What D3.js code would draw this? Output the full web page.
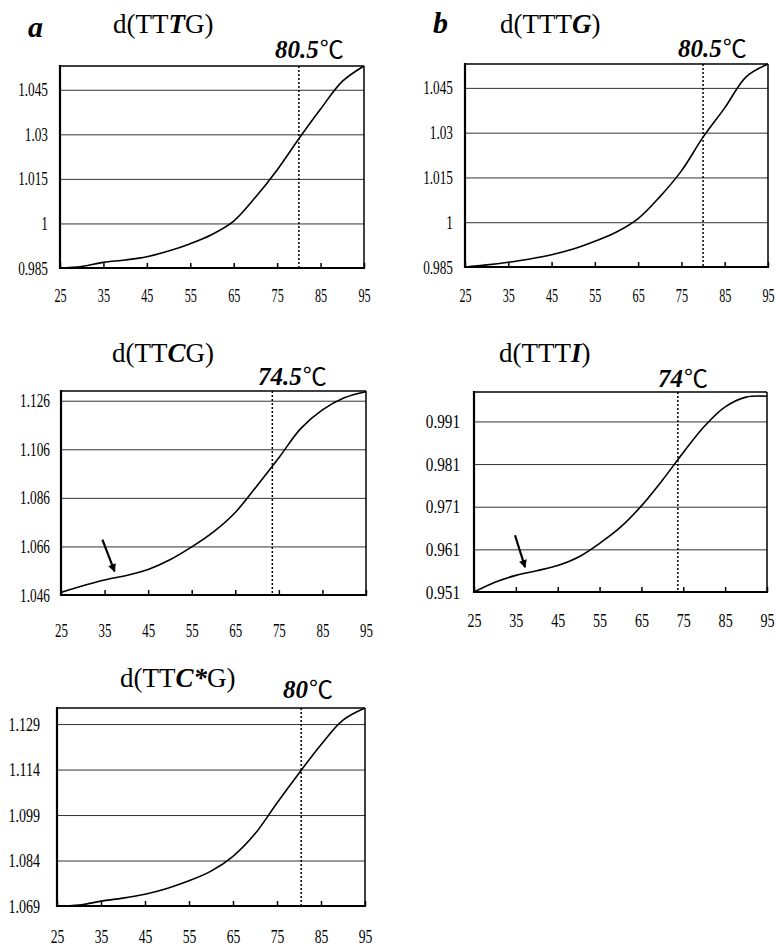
<!DOCTYPE html>
<html>
<head>
<meta charset="utf-8">
<script src="https://cdn.jsdelivr.net/npm/d3@7"></script>
<style>
  body { margin: 0; background: #fff; }
  svg { display: block; }
</style>
</head>
<body>
<svg id="chart"></svg>
<script>
// temperatures (°C) sampled every 5 degrees
const temps = [25, 30, 35, 40, 45, 50, 55, 60, 65, 70, 75, 80, 85, 90, 95];

// normalised absorbance
const tttgA  = [0.9850, 0.9855, 0.9869, 0.9877, 0.9888, 0.9907, 0.9932, 0.9963, 1.0008, 1.0088, 1.0180, 1.0285, 1.0385, 1.0478, 1.0530];
const tttgB  = [0.9850, 0.9857, 0.9866, 0.9877, 0.9891, 0.9910, 0.9936, 0.9967, 1.0012, 1.0085, 1.0172, 1.0285, 1.0383, 1.0488, 1.0530];
const ttcg   = [1.0470, 1.0498, 1.0522, 1.0540, 1.0565, 1.0605, 1.0658, 1.0720, 1.0800, 1.0910, 1.1025, 1.1145, 1.1222, 1.1272, 1.1297];
const ttti   = [0.9510, 0.9533, 0.9549, 0.9560, 0.9572, 0.9592, 0.9624, 0.9662, 0.9712, 0.9772, 0.9837, 0.9898, 0.9944, 0.9967, 0.9969];
const ttcsg  = [1.0690, 1.0693, 1.0706, 1.0716, 1.0729, 1.0748, 1.0773, 1.0805, 1.0854, 1.0928, 1.1030, 1.1128, 1.1222, 1.1303, 1.1343];

const xTicks = [25, 35, 45, 55, 65, 75, 85, 95];
const yTicksTTTG  = [0.985, 1, 1.015, 1.03, 1.045];
const yTicksTTCG  = [1.046, 1.066, 1.086, 1.106, 1.126];
const yTicksTTTI  = [0.951, 0.961, 0.971, 0.981, 0.991];
const yTicksTTCSG = [1.069, 1.084, 1.099, 1.114, 1.129];

// melting temperatures: where the dotted line sits and what the label says
const tmLines  = [80, 80, 73.5, 73.7, 80.5];
const tmLabels = ['80.5', '80.5', '74.5', '74', '80'];

// title pieces, [text, bold-italic?]
const titles = [
    [['d(TT', false], ['T', true], ['G)', false]],
    [['d(TTT', false], ['G', true], [')', false]],
    [['d(TT', false], ['C', true], ['G)', false]],
    [['d(TTT', false], ['I', true], [')', false]],
    [['d(TT', false], ['C*', true], ['G)', false]]
];
const panelLetters = ['a', 'b', '', '', ''];

// arrows: [tail temp, tail value, tip temp, tip value]
const arrowTTCG = [34.5, 1.0688, 37.3, 1.0557];
const arrowTTTI = [34.8, 0.9643, 37.2, 0.9568];

const serif = '"Liberation Serif", "Times New Roman", serif';

const svg = d3.select('#chart')
    .attr('width', 776)
    .attr('height', 949)
    .style('font-family', serif);

svg.append('defs').append('marker')
    .attr('id', 'head')
    .attr('viewBox', '0 0 10 10')
    .attr('refX', 9).attr('refY', 5)
    .attr('markerWidth', 6).attr('markerHeight', 3.6)
    .attr('markerUnits', 'strokeWidth')
    .attr('orient', 'auto')
    .append('path')
    .attr('d', 'M0,0 L10,5 L0,10 Z')
    .attr('fill', '#000');

const panels = [
    { values: tttgA, yTicks: yTicksTTTG, yDomain: [0.985, 1.053], left: 60, right: 364, top: 66, bottom: 268,
      yPad: 12, yCond: 0.70, xLab: 27, xCond: 0.64, letter: [28, 37], title: [113, 33], tm: [275, 58] },
    { values: tttgB, yTicks: yTicksTTTG, yDomain: [0.985, 1.053], left: 465, right: 768, top: 64, bottom: 267,
      yPad: 12, yCond: 0.70, xLab: 28, xCond: 0.64, letter: [433, 33], title: [500, 33], tm: [678, 57] },
    { values: ttcg, yTicks: yTicksTTCG, yDomain: [1.046, 1.130], left: 61, right: 366, top: 391, bottom: 595,
      yPad: 11, yCond: 0.70, xLab: 35, xCond: 0.68, letter: [0, 0], title: [112, 362], tm: [258, 385], arrow: arrowTTCG },
    { values: ttti, yTicks: yTicksTTTI, yDomain: [0.951, 0.9979], left: 474, right: 767, top: 392, bottom: 592,
      yPad: 14, yCond: 0.80, xLab: 28, xCond: 0.74, letter: [0, 0], title: [499, 362], tm: [658, 387], arrow: arrowTTTI },
    { values: ttcsg, yTicks: yTicksTTCSG, yDomain: [1.069, 1.1343], left: 57, right: 365, top: 708, bottom: 906,
      yPad: 17, yCond: 0.74, xLab: 30, xCond: 0.72, letter: [0, 0], title: [120, 687], tm: [283, 698] }
];

// squeeze text horizontally like the narrow digits of the scan
function squeeze(sel, ratio) {
    sel.each(function () {
        const t = d3.select(this);
        const x0 = +t.attr('x') || 0;
        t.attr('x', x0 / ratio).attr('transform', `scale(${ratio},1)`);
    });
}

panels.forEach((p, i) => {
    const x = d3.scaleLinear().domain([25, 95]).range([p.left, p.right]);
    const y = d3.scaleLinear().domain(p.yDomain).range([p.bottom, p.top]);
    const w = p.right - p.left;
    const g = svg.append('g');

    // gridlines and y labels
    const yAxis = g.append('g')
        .attr('transform', `translate(${p.left},0)`)
        .call(d3.axisLeft(y)
            .tickValues(p.yTicks)
            .tickFormat(d => String(d))
            .tickSizeInner(-w)
            .tickSizeOuter(0)
            .tickPadding(p.yPad));
    yAxis.attr('font-family', serif).attr('font-size', 19);
    yAxis.select('.domain').remove();
    yAxis.selectAll('line').attr('stroke', '#333').attr('stroke-width', 1);
    squeeze(yAxis.selectAll('text'), p.yCond);

    // x ticks point inwards
    const xAxis = g.append('g')
        .attr('transform', `translate(0,${p.bottom})`)
        .call(d3.axisBottom(x)
            .tickValues(xTicks)
            .tickFormat(d3.format('d'))
            .tickSizeInner(-5)
            .tickSizeOuter(0));
    xAxis.attr('font-family', serif).attr('font-size', 19);
    xAxis.select('.domain').remove();
    xAxis.selectAll('line').attr('stroke', '#000').attr('stroke-width', 1.5);
    xAxis.selectAll('text')
        .attr('y', p.xLab)
        .attr('dy', '0.35em');
    squeeze(xAxis.selectAll('text'), p.xCond);

    // melting curve
    const line = d3.line()
        .x((d, j) => x(temps[j]))
        .y(d => y(d))
        .curve(d3.curveCatmullRom.alpha(0.5));
    g.append('path')
        .datum(p.values)
        .attr('d', line)
        .attr('fill', 'none')
        .attr('stroke', '#000')
        .attr('stroke-width', 1.6);

    // Tm marker
    g.append('line')
        .attr('x1', x(tmLines[i])).attr('x2', x(tmLines[i]))
        .attr('y1', p.top).attr('y2', p.bottom)
        .attr('stroke', '#000')
        .attr('stroke-width', 1.5)
        .attr('stroke-dasharray', '2,2');

    // frame: left/bottom heavier
    g.append('line').attr('x1', p.left).attr('x2', p.right).attr('y1', p.top).attr('y2', p.top)
        .attr('stroke', '#000').attr('stroke-width', 1.5);
    g.append('line').attr('x1', p.right).attr('x2', p.right).attr('y1', p.top).attr('y2', p.bottom)
        .attr('stroke', '#000').attr('stroke-width', 1.5);
    g.append('line').attr('x1', p.left).attr('x2', p.left).attr('y1', p.top - 1).attr('y2', p.bottom + 1)
        .attr('stroke', '#000').attr('stroke-width', 2.2);
    g.append('line').attr('x1', p.left - 1).attr('x2', p.right + 1).attr('y1', p.bottom).attr('y2', p.bottom)
        .attr('stroke', '#000').attr('stroke-width', 2.2);

    // arrow pointing at the shoulder
    if (p.arrow) {
        g.append('line')
            .attr('x1', x(p.arrow[0])).attr('y1', y(p.arrow[1]))
            .attr('x2', x(p.arrow[2])).attr('y2', y(p.arrow[3]))
            .attr('stroke', '#000')
            .attr('stroke-width', 2.2)
            .attr('marker-end', 'url(#head)');
    }

    // panel letter
    if (panelLetters[i]) {
        g.append('text')
            .attr('x', p.letter[0]).attr('y', p.letter[1])
            .attr('font-size', 30)
            .attr('font-weight', 'bold')
            .attr('font-style', 'italic')
            .text(panelLetters[i]);
    }

    // sequence title
    const t = g.append('text')
        .attr('x', p.title[0]).attr('y', p.title[1])
        .attr('font-size', 27);
    titles[i].forEach(seg => {
        t.append('tspan')
            .attr('font-weight', seg[1] ? 'bold' : 'normal')
            .attr('font-style', seg[1] ? 'italic' : 'normal')
            .text(seg[0]);
    });

    // Tm label
    const tm = g.append('text')
        .attr('x', p.tm[0]).attr('y', p.tm[1]);
    tm.append('tspan')
        .attr('font-size', 25)
        .attr('font-weight', 'bold')
        .attr('font-style', 'italic')
        .text(tmLabels[i]);
    tm.append('tspan')
        .attr('font-size', 24)
        .attr('font-family', '"Noto Sans CJK TC", "DejaVu Sans", sans-serif')
        .attr('font-weight', 'normal')
        .attr('dx', 1)
        .text('\u2103');
});
</script>
</body>
</html>
